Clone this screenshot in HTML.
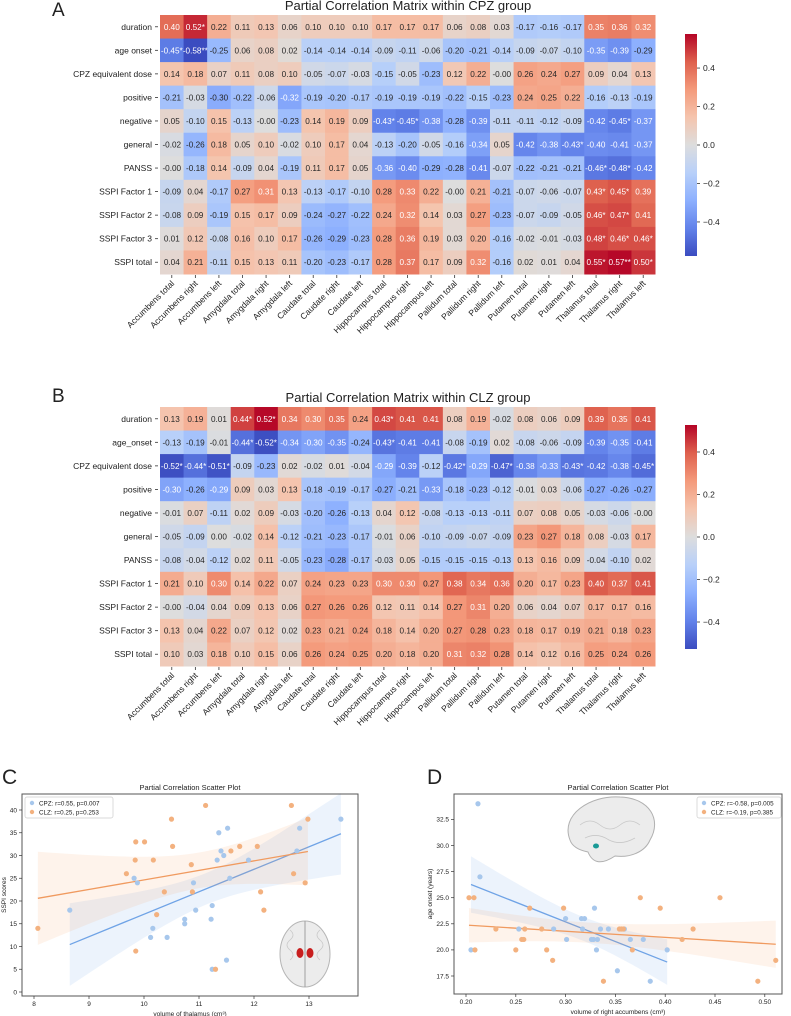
<!DOCTYPE html>
<html><head><meta charset="utf-8"><style>
html,body{margin:0;padding:0;background:#fff;}
svg{display:block;font-family:"Liberation Sans",sans-serif;}
</style></head><body>
<svg id="fig" width="791" height="1016" viewBox="0 0 791 1016" xmlns="http://www.w3.org/2000/svg">
<defs>
<linearGradient id="cbar" x1="0" y1="1" x2="0" y2="0">
<stop offset="0" stop-color="rgb(59,76,192)"/><stop offset="0.125" stop-color="rgb(98,130,234)"/><stop offset="0.25" stop-color="rgb(141,176,254)"/><stop offset="0.375" stop-color="rgb(184,208,249)"/><stop offset="0.5" stop-color="rgb(221,221,221)"/><stop offset="0.625" stop-color="rgb(245,196,173)"/><stop offset="0.75" stop-color="rgb(244,154,123)"/><stop offset="0.875" stop-color="rgb(222,96,77)"/><stop offset="1" stop-color="rgb(180,4,38)"/>
</linearGradient>
</defs>
<g id="root"></g>
</svg>
<script>
const colLabels=["Accumbens total","Accumbens right","Accumbens left","Amygdala total","Amygdala right","Amygdala left","Caudate total","Caudate right","Caudate left","Hippocampus total","Hippocampus right","Hippocampus left","Pallidum total","Pallidum right","Pallidum left","Putamen total","Putamen right","Putamen left","Thalamus total","Thalamus right","Thalamus left"];
const rowLabelsA=["duration","age onset","CPZ equivalent dose","positive","negative","general","PANSS","SSPI Factor 1","SSPI Factor 2","SSPI Factor 3","SSPI total"];
const rowLabelsB=["duration","age_onset","CPZ equivalent dose","positive","negative","general","PANSS","SSPI Factor 1","SSPI Factor 2","SSPI Factor 3","SSPI total"];
const cbTicks=[0.4,0.2,0.0,-0.2,-0.4];
const matA=[
"0.40,0.52*,0.22,0.11,0.13,0.06,0.10,0.10,0.10,0.17,0.17,0.17,0.06,0.08,0.03,-0.17,-0.16,-0.17,0.35,0.36,0.32",
"-0.45*,-0.58**,-0.25,0.06,0.08,0.02,-0.14,-0.14,-0.14,-0.09,-0.11,-0.06,-0.20,-0.21,-0.14,-0.09,-0.07,-0.10,-0.35,-0.39,-0.29",
"0.14,0.18,0.07,0.11,0.08,0.10,-0.05,-0.07,-0.03,-0.15,-0.05,-0.23,0.12,0.22,-0.00,0.26,0.24,0.27,0.09,0.04,0.13",
"-0.21,-0.03,-0.30,-0.22,-0.06,-0.32,-0.19,-0.20,-0.17,-0.19,-0.19,-0.19,-0.22,-0.15,-0.23,0.24,0.25,0.22,-0.16,-0.13,-0.19",
"0.05,-0.10,0.15,-0.13,-0.00,-0.23,0.14,0.19,0.09,-0.43*,-0.45*,-0.38,-0.28,-0.39,-0.11,-0.11,-0.12,-0.09,-0.42,-0.45*,-0.37",
"-0.02,-0.26,0.18,0.05,0.10,-0.02,0.10,0.17,0.04,-0.13,-0.20,-0.05,-0.16,-0.34,0.05,-0.42,-0.38,-0.43*,-0.40,-0.41,-0.37",
"-0.00,-0.18,0.14,-0.09,0.04,-0.19,0.11,0.17,0.05,-0.36,-0.40,-0.29,-0.28,-0.41,-0.07,-0.22,-0.21,-0.21,-0.46*,-0.48*,-0.42",
"-0.09,0.04,-0.17,0.27,0.31,0.13,-0.13,-0.17,-0.10,0.28,0.33,0.22,-0.00,0.21,-0.21,-0.07,-0.06,-0.07,0.43*,0.45*,0.39",
"-0.08,0.09,-0.19,0.15,0.17,0.09,-0.24,-0.27,-0.22,0.24,0.32,0.14,0.03,0.27,-0.23,-0.07,-0.09,-0.05,0.46*,0.47*,0.41",
"0.01,0.12,-0.08,0.16,0.10,0.17,-0.26,-0.29,-0.23,0.28,0.36,0.19,0.03,0.20,-0.16,-0.02,-0.01,-0.03,0.48*,0.46*,0.46*",
"0.04,0.21,-0.11,0.15,0.13,0.11,-0.20,-0.23,-0.17,0.28,0.37,0.17,0.09,0.32,-0.16,0.02,0.01,0.04,0.55*,0.57**,0.50*"];
const matB=[
"0.13,0.19,0.01,0.44*,0.52*,0.34,0.30,0.35,0.24,0.43*,0.41,0.41,0.08,0.19,-0.02,0.08,0.06,0.09,0.39,0.35,0.41",
"-0.13,-0.19,-0.01,-0.44*,-0.52*,-0.34,-0.30,-0.35,-0.24,-0.43*,-0.41,-0.41,-0.08,-0.19,0.02,-0.08,-0.06,-0.09,-0.39,-0.35,-0.41",
"-0.52*,-0.44*,-0.51*,-0.09,-0.23,0.02,-0.02,0.01,-0.04,-0.29,-0.39,-0.12,-0.42*,-0.29,-0.47*,-0.38,-0.33,-0.43*,-0.42,-0.38,-0.45*",
"-0.30,-0.26,-0.29,0.09,0.03,0.13,-0.18,-0.19,-0.17,-0.27,-0.21,-0.33,-0.18,-0.23,-0.12,-0.01,0.03,-0.06,-0.27,-0.26,-0.27",
"-0.01,0.07,-0.11,0.02,0.09,-0.03,-0.20,-0.26,-0.13,0.04,0.12,-0.08,-0.13,-0.13,-0.11,0.07,0.08,0.05,-0.03,-0.06,-0.00",
"-0.05,-0.09,0.00,-0.02,0.14,-0.12,-0.21,-0.23,-0.17,-0.01,0.06,-0.10,-0.09,-0.07,-0.09,0.23,0.27,0.18,0.08,-0.03,0.17",
"-0.08,-0.04,-0.12,0.02,0.11,-0.05,-0.23,-0.28,-0.17,-0.03,0.05,-0.15,-0.15,-0.15,-0.13,0.13,0.16,0.09,-0.04,-0.10,0.02",
"0.21,0.10,0.30,0.14,0.22,0.07,0.24,0.23,0.23,0.30,0.30,0.27,0.38,0.34,0.36,0.20,0.17,0.23,0.40,0.37,0.41",
"-0.00,-0.04,0.04,0.09,0.13,0.06,0.27,0.26,0.26,0.12,0.11,0.14,0.27,0.31,0.20,0.06,0.04,0.07,0.17,0.17,0.16",
"0.13,0.04,0.22,0.07,0.12,0.02,0.23,0.21,0.24,0.18,0.14,0.20,0.27,0.28,0.23,0.18,0.17,0.19,0.21,0.18,0.23",
"0.10,0.03,0.18,0.10,0.15,0.06,0.26,0.24,0.25,0.20,0.18,0.20,0.31,0.32,0.28,0.14,0.12,0.16,0.25,0.24,0.26"];
const cpzC_x=[8.65,9.82,9.88,10.12,10.16,10.42,10.74,10.74,10.9,10.94,11.22,11.24,11.24,11.33,11.36,11.4,11.45,11.5,11.52,11.56,11.9,12.78,12.83,13.58];
const cpzC_y=[18,25,24,12,14,12,16,15,24,18,16,19,5,29,35,31,30,7,36,25,29,31,36,38];
const clzC_x=[8.07,9.68,9.84,9.85,9.85,10.01,10.17,10.23,10.37,10.5,10.52,10.86,10.88,11.12,11.3,11.58,11.74,12.06,12.12,12.18,12.68,12.72,12.93,12.98];
const clzC_y=[14,26,29,33,9,33,29,17,22,38,32,28,22,41,5,31,32,32,22,18,41,26,24,38];
const cTicksX=[8,9,10,11,12,13];
const cTicksY=[0,5,10,15,20,25,30,35,40];
const cpzD_x=[0.205,0.212,0.214,0.253,0.288,0.300,0.301,0.316,0.319,0.317,0.326,0.328,0.329,0.331,0.332,0.335,0.343,0.352,0.359,0.365,0.378,0.385,0.402];
const cpzD_y=[20,34,27,22,22,23,21,23,23,22,21,21,24,20,21,22,22,18,22,21,21,17,20];
const clzD_x=[0.203,0.208,0.209,0.230,0.250,0.256,0.258,0.259,0.264,0.276,0.281,0.287,0.298,0.338,0.354,0.356,0.358,0.367,0.375,0.395,0.417,0.428,0.455,0.493,0.511];
const clzD_y=[25,25,20,22,20,21,21,22,24,22,20,19,24,17,22,22,22,20,25,24,21,22,25,17,19];
const dTicksX=[0.20,0.25,0.30,0.35,0.40,0.45,0.50];
const dTicksY=[17.5,20.0,22.5,25.0,27.5,30.0,32.5];

const NS="http://www.w3.org/2000/svg";
const root=document.getElementById('root');
function mk(tag,attrs,parent,txt){const e=document.createElementNS(NS,tag);for(const k in attrs)e.setAttribute(k,attrs[k]);if(txt!==undefined)e.textContent=txt;(parent||root).appendChild(e);return e;}
const stops=[[59,76,192],[98,130,234],[141,176,254],[184,208,249],[221,221,221],[245,196,173],[244,154,123],[222,96,77],[180,4,38]];
function cw(t){t=Math.max(0,Math.min(1,t));const p=t*8,i=Math.min(7,Math.floor(p)),f=p-i;return stops[i].map((c,k)=>Math.round(c+(stops[i+1][k]-c)*f));}
function lum(c){const l=c.map(v=>{v/=255;return v<=0.03928?v/12.92:Math.pow((v+0.055)/1.055,2.4);});return 0.2126*l[0]+0.7152*l[1]+0.0722*l[2];}

function heatmap(name,mat,rows,gx,gy,vmax,title,letter,cbTop,cbBot){
  const g=mk('g',{});
  
  
  const cwid=495/21,ch=259/11;
  const x=j=>gx+j*cwid, y=i=>gy+i*ch;
  const t=mk('text',{x:408,y:gy-5,'text-anchor':'middle','font-size':13,fill:'#222'},g,title);
  
  
  const L=mk('text',{x:52,y:gy+(letter==='A'?1:-5),'font-size':19,fill:'#222'},g,letter);
  
  
  mat.forEach((rowStr,i)=>{
    const vals=rowStr.split(',');
    vals.forEach((s,j)=>{
      const v=parseFloat(s);const c=cw((v+vmax)/(2*vmax));
      const r=mk('rect',{x:x(j),y:y(i),width:cwid+0.5,height:ch+0.5,fill:`rgb(${c})`},g);
      
      
      const tx=mk('text',{x:x(j)+cwid/2,y:y(i)+ch/2+3,'text-anchor':'middle','font-size':8.2,fill:lum(c)>0.408?'#262626':'#fff'},g,s);
      
      
    });
  });
  rows.forEach((r,i)=>{
    const tx=mk('text',{x:gx-8,y:y(i)+ch/2+3,'text-anchor':'end','font-size':8.5,fill:'#222'},g,r);
    
    
    mk('line',{x1:gx-5,x2:gx-2,y1:y(i)+ch/2,y2:y(i)+ch/2,stroke:'#333','stroke-width':0.8},g);
  });
  colLabels.forEach((c,j)=>{
    const cx=x(j)+cwid/2, by=gy+259;
    mk('line',{x1:cx,x2:cx,y1:by+1,y2:by+4,stroke:'#333','stroke-width':0.8},g);
    const tx=mk('text',{x:cx+3,y:by+10,'text-anchor':'end','font-size':8.5,fill:'#222',transform:`rotate(-45 ${cx+3} ${by+10})`},g,c);
    
    
  });
  const cb=mk('rect',{x:685,y:cbTop,width:12,height:cbBot-cbTop,fill:'url(#cbar)'},g);
  
  
  const mid=(cbTop+cbBot)/2, sc=(cbBot-cbTop)/2/vmax;
  cbTicks.forEach(v=>{
    const ty=mid-v*sc;
    mk('line',{x1:697,x2:700,y1:ty,y2:ty,stroke:'#333','stroke-width':0.8},g);
    const tx=mk('text',{x:703,y:ty+3,'font-size':8.5,fill:'#222'},g,(v<0?'\u2212':'')+Math.abs(v).toFixed(1));
    
    
  });
}
heatmap('heatmap-cpz',matA,rowLabelsA,160,15,0.577,'Partial Correlation Matrix within CPZ group','A',34,256);
heatmap('heatmap-clz',matB,rowLabelsB,160,407,0.527,'Partial Correlation Matrix within CLZ group','B',425,649);

function fit(xs,ys){const n=xs.length,mx=xs.reduce((a,b)=>a+b)/n,my=ys.reduce((a,b)=>a+b)/n;let sxx=0,sxy=0;xs.forEach((v,i)=>{sxx+=(v-mx)**2;sxy+=(v-mx)*(ys[i]-my);});const b=sxy/sxx,a=my-b*mx;let sse=0;xs.forEach((v,i)=>{sse+=(ys[i]-a-b*v)**2;});return {a,b,mx,sxx,n,s:Math.sqrt(sse/(n-2))};}

function scatter(name,o){
  const g=mk('g',{});
  
  
  const X=v=>o.px0+(v-o.x0)*o.sx, Y=v=>o.py0-(v-o.y0)*o.sy;
  const L=mk('text',{x:o.lx,y:o.ly,'font-size':21,fill:'#222'},g,o.letter);
  
  
  const t=mk('text',{x:(o.ax+o.ax2)/2,y:o.ay-4,'text-anchor':'middle','font-size':7.5,fill:'#222'},g,'Partial Correlation Scatter Plot');
  
  
  const series=[[o.x1,o.y1,'#a7c7ec','#6fa3e6','rgba(110,160,230,0.13)'],[o.x2,o.y2,'#f3b17f','#f09a5f','rgba(245,160,100,0.13)']];
  series.forEach(([xs,ys,pc,lc,bc],k)=>{
    const f=fit(xs,ys);const mn=Math.min(...xs),mxx=Math.max(...xs);
    const up=[],lo=[];
    for(let i=0;i<=40;i++){const xv=mn+(mxx-mn)*i/40;const yv=f.a+f.b*xv;const se=2.07*f.s*Math.sqrt(1/f.n+(xv-f.mx)**2/f.sxx);up.push(X(xv)+','+Y(yv+se));lo.unshift(X(xv)+','+Y(yv-se));}
    const band=mk('polygon',{points:up.concat(lo).join(' '),fill:bc},g);
    
    
    const ln=mk('line',{x1:X(mn),y1:Y(f.a+f.b*mn),x2:X(mxx),y2:Y(f.a+f.b*mxx),stroke:lc,'stroke-width':1.3},g);
    
    
  });
  o.brain(g);
  series.forEach(([xs,ys,pc])=>{
    xs.forEach((xv,i)=>{
      const c=mk('circle',{cx:X(xv),cy:Y(ys[i]),r:2.6,fill:pc},g);
      
      
    });
  });
  const box=mk('rect',{x:o.ax,y:o.ay,width:o.ax2-o.ax,height:o.ay2-o.ay,fill:'none',stroke:'#555','stroke-width':1},g);
  
  
  o.tx.forEach(v=>{
    mk('line',{x1:X(v),x2:X(v),y1:o.ay2,y2:o.ay2+3,stroke:'#333','stroke-width':0.7},g);
    const tx=mk('text',{x:X(v),y:o.ay2+10,'text-anchor':'middle','font-size':6.5,fill:'#222'},g,o.fx(v));
    
    
  });
  o.ty.forEach(v=>{
    mk('line',{x1:o.ax-3,x2:o.ax,y1:Y(v),y2:Y(v),stroke:'#333','stroke-width':0.7},g);
    const tx=mk('text',{x:o.ax-5,y:Y(v)+2.3,'text-anchor':'end','font-size':6.5,fill:'#222'},g,o.fy(v));
    
    
  });
  const xl=mk('text',{x:(o.ax+o.ax2)/2,y:o.ay2+20,'text-anchor':'middle','font-size':6.5,fill:'#222'},g,o.xlab);
  
  
  const yl=mk('text',{x:o.ylx,y:(o.ay+o.ay2)/2,'text-anchor':'middle','font-size':6.5,fill:'#222',transform:`rotate(-90 ${o.ylx} ${(o.ay+o.ay2)/2})`},g,o.ylab);
  
  
  const lg=mk('g',{},g);
  
  
  mk('rect',{x:o.lgx,y:o.ay+3,width:o.lgw,height:21,fill:'#fff',stroke:'#ccc','stroke-width':0.7,rx:2},lg);
  o.leg.forEach((s,k)=>{
    mk('circle',{cx:o.lgx+7,cy:o.ay+9+k*9,r:2.2,fill:k?'#f3b17f':'#a7c7ec'},lg);
    const tx=mk('text',{x:o.lgx+14,y:o.ay+11.3+k*9,'font-size':6.3,fill:'#222'},lg,s);
    
    
  });
}
scatter('scatter-thalamus',{letter:'C',lx:2,ly:784,ax:22,ax2:358,ay:794,ay2:996,x0:8,px0:34,sx:55.0,y0:0,py0:992,sy:4.55,
  x1:cpzC_x,y1:cpzC_y,x2:clzC_x,y2:clzC_y,tx:cTicksX,ty:cTicksY,fx:v=>String(v),fy:v=>String(v),
  xlab:'volume of thalamus (cm\u00b3)',ylab:'SSPI scores',ylx:6,lgx:25,lgw:88,leg:['CPZ: r=0.55, p=0.007','CLZ: r=0.25, p=0.253'],
  brain:g=>{const b=mk('g',{},g);
    mk('ellipse',{cx:305,cy:954,rx:25,ry:33,fill:'#ececec',stroke:'#b5b5b5','stroke-width':1},b);
    mk('path',{d:'M290 930 q6 5 0 10 q-6 5 0 10 q6 5 0 10 M320 930 q-6 5 0 10 q6 5 0 10 q-6 5 0 10',fill:'none',stroke:'#c8c8c8','stroke-width':0.8},b);
    mk('line',{x1:305,y1:921,x2:305,y2:987,stroke:'#a0a0a0','stroke-width':1},b);
    mk('ellipse',{cx:300,cy:953,rx:3.5,ry:5,fill:'#c81e1e'},b);mk('ellipse',{cx:310,cy:953,rx:3.5,ry:5,fill:'#c81e1e'},b);}});
scatter('scatter-accumbens',{letter:'D',lx:427,ly:784,ax:454,ax2:782,ay:794,ay2:994,x0:0.20,px0:466,sx:996,y0:17.5,py0:976,sy:10.44,
  x1:cpzD_x,y1:cpzD_y,x2:clzD_x,y2:clzD_y,tx:dTicksX,ty:dTicksY,fx:v=>v.toFixed(2),fy:v=>v.toFixed(1),
  xlab:'volume of right accumbens (cm\u00b3)',ylab:'age onset (years)',ylx:432,lgx:697,lgw:84,leg:['CPZ: r=-0.58, p=0.005','CLZ: r=-0.19, p=0.385'],
  brain:g=>{const b=mk('g',{},g);
    mk('path',{d:'M570 840 C560 815 590 795 620 797 C650 798 662 820 650 840 C645 852 630 858 615 856 C600 866 592 862 588 852 C578 850 572 846 570 840 Z',fill:'#ececec',stroke:'#b0b0b0','stroke-width':1},b);
    mk('path',{d:'M580 825 q10 -8 20 0 q10 8 20 0 q10 -8 20 0 M585 838 q12 -6 24 2 q12 6 26 -2',fill:'none',stroke:'#c8c8c8','stroke-width':0.8},b);
    mk('ellipse',{cx:596,cy:846,rx:3,ry:2.5,fill:'#1a9a96'},b);}});
</script>
</body></html>
